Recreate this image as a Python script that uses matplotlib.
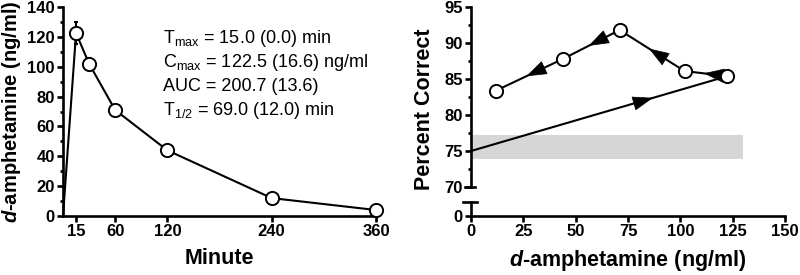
import matplotlib
matplotlib.use('Agg')
import matplotlib.pyplot as plt
from matplotlib.ticker import MultipleLocator

plt.rcParams['font.family'] = ['Liberation Sans', 'DejaVu Sans']
plt.rcParams['mathtext.fontset'] = 'custom'
plt.rcParams['mathtext.rm'] = 'Liberation Sans'
plt.rcParams['mathtext.it'] = 'Liberation Sans:bold:italic'
plt.rcParams['mathtext.bf'] = 'Liberation Sans:bold'

# pharmacokinetic curve (left)
minutes = [0, 15, 30, 60, 120, 240, 360]
conc = [0, 122.5, 102, 71, 44, 12, 4]
conc_sem = [0, 7.5, 4, 3, 3, 2, 1]
minute_ticks = [15, 60, 120, 240, 360]
pk_text = [r'T$_{\mathrm{max}}$ = 15.0 (0.0) min',
           r'C$_{\mathrm{max}}$ = 122.5 (16.6) ng/ml',
           'AUC = 200.7 (13.6)',
           r'T$_{\mathrm{1/2}}$ = 69.0 (12.0) min']

# hysteresis loop (right): concentration vs percent correct, in time order
loop_conc = [0, 122.5, 102, 71, 44, 12]
loop_pct = [75.0, 85.4, 86.1, 91.8, 87.8, 83.4]
arrow_frac = [0.66, 0.5, 0.5, 0.5, 0.5]
band_x = [0, 130]
band_lo, band_hi = 73.9, 77.2

TICK = 12
LABEL = 15.5
LW = 1.5
SPINE = 1.9


def style(ax):
    for s in ['top', 'right']:
        ax.spines[s].set_visible(False)
    for s in ['left', 'bottom']:
        ax.spines[s].set_linewidth(SPINE)
    ax.tick_params(which='major', direction='out', length=4, width=SPINE,
                   labelsize=TICK, pad=2)
    ax.tick_params(which='minor', direction='out', length=2.5, width=SPINE)
    for lab in ax.get_xticklabels() + ax.get_yticklabels():
        lab.set_fontweight('bold')


fig = plt.figure(figsize=(8, 2.75), dpi=100)

# ---- left panel
ax1 = fig.add_axes([63 / 800, 1 - 216 / 275, 313 / 800, 209 / 275])
ax1.plot(minutes, conc, color='black', lw=LW, zorder=2, clip_on=False)
ax1.errorbar(minutes[1:], conc[1:], yerr=conc_sem[1:], fmt='none',
             ecolor='black', elinewidth=LW, capsize=1.5, capthick=LW, zorder=2)
ax1.plot(minutes[1:], conc[1:], 'o', ms=9.5, mfc='white', mec='black',
         mew=1.4, zorder=3, clip_on=False)
ax1.set_xlim(0, 360)
ax1.set_ylim(0, 140)
ax1.set_xticks(minute_ticks)
ax1.yaxis.set_major_locator(MultipleLocator(20))
ax1.yaxis.set_minor_locator(MultipleLocator(10))
style(ax1)
ax1.set_xlabel('Minute', fontsize=LABEL, fontweight='bold', labelpad=6)
ax1.set_ylabel(r'$\mathit{d}$-amphetamine (ng/ml)', fontsize=LABEL - 1,
               fontweight='bold', labelpad=3)

for i, line in enumerate(pk_text):
    fig.text(163 / 800, 1 - (43 + 24 * i) / 275, line, fontsize=13,
             va='baseline', ha='left')

# ---- right panel: broken y axis
x0, w = 471 / 800, 314 / 800
ax2 = fig.add_axes([x0, 1 - 187 / 275, w, 180 / 275])
ax3 = fig.add_axes([x0, 1 - 216 / 275, w, 14 / 275])

ax2.fill_between(band_x, band_lo, band_hi, color='#d6d6d6', lw=0, zorder=0)
ax2.plot(loop_conc, loop_pct, color='black', lw=LW, zorder=2, clip_on=False)
ax2.plot(loop_conc[1:], loop_pct[1:], 'o', ms=9.5, mfc='white', mec='black',
         mew=1.4, zorder=4, clip_on=False)
for i, f in enumerate(arrow_frac):
    xa, ya = loop_conc[i], loop_pct[i]
    xb, yb = loop_conc[i + 1], loop_pct[i + 1]
    tip = (xa + (f + 0.05) * (xb - xa), ya + (f + 0.05) * (yb - ya))
    tail = (xa + (f - 0.01) * (xb - xa), ya + (f - 0.01) * (yb - ya))
    ax2.annotate('', xy=tip, xytext=tail,
                 arrowprops=dict(arrowstyle='-|>,head_length=0.8,head_width=0.28',
                                 color='black', lw=0.5, shrinkA=0, shrinkB=0,
                                 mutation_scale=17),
                 zorder=3)
ax2.set_xlim(0, 150)
ax2.set_ylim(70, 95)
ax2.yaxis.set_major_locator(MultipleLocator(5))
ax2.yaxis.set_minor_locator(MultipleLocator(2.5))
ax2.spines['bottom'].set_visible(False)
ax2.tick_params(axis='x', which='both', bottom=False, labelbottom=False)
style(ax2)

ax3.set_xlim(0, 150)
ax3.set_ylim(0, 1)
ax3.set_yticks([0])
ax3.xaxis.set_major_locator(MultipleLocator(25))
style(ax3)
ax3.set_xlabel(r'$\mathit{d}$-amphetamine (ng/ml)', fontsize=LABEL,
               fontweight='bold', labelpad=6)
# break caps at spine ends
ax3.plot([-0.025, 0.02], [1, 1], transform=ax3.transAxes, color='black',
         lw=SPINE, clip_on=False)
ax2.plot([-0.02, 0.012], [0, 0], transform=ax2.transAxes, color='black',
         lw=SPINE, clip_on=False)

fig.text(424 / 800, 1 - 109 / 275, 'Percent Correct', rotation=90,
         fontsize=LABEL, fontweight='bold', ha='center', va='center')

fig.savefig('out.png', dpi=100)
